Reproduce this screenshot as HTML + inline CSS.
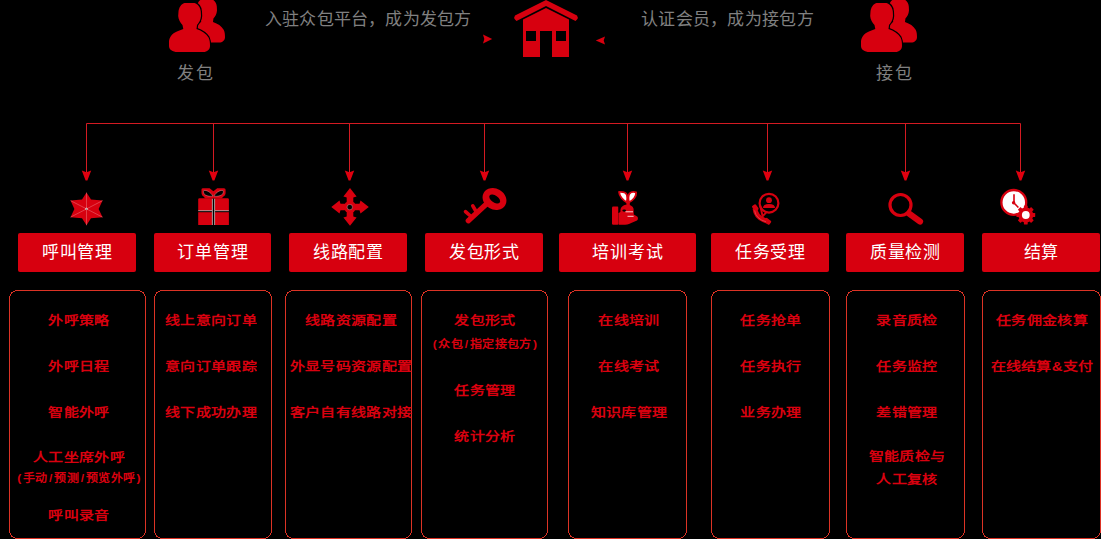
<!DOCTYPE html>
<html lang="zh-CN">
<head>
<meta charset="utf-8">
<style>
html,body{margin:0;padding:0;background:#000;}
body{width:1101px;height:539px;overflow:hidden;position:relative;font-family:"Liberation Sans",sans-serif;}
svg.bg{position:absolute;left:0;top:0;}
.t{position:absolute;white-space:nowrap;text-align:center;line-height:1;}
.g{color:#808080;font-size:17px;font-weight:500;}
.h{position:absolute;top:233px;height:39px;background:#d7000f;border-radius:2px;color:#fff;font-size:17px;line-height:39px;text-align:center;letter-spacing:0.7px;text-indent:0.7px;font-weight:350;}
.s{position:absolute;width:160px;margin-left:-79px;margin-top:1px;text-align:center;color:#d9000f;font-size:15px;font-weight:bold;line-height:1;white-space:nowrap;transform:scaleY(0.82);letter-spacing:0.3px;}
.s i{font-style:normal;display:inline-block;text-align:center;width:6px;}
.s.sm i{width:7px;}
.s.sm{font-size:12px;letter-spacing:0.3px;transform:scaleY(0.92);}
</style>
</head>
<body>
<svg class="bg" width="1101" height="539" viewBox="0 0 1101 539">
  <!-- connector lines -->
  <g stroke="#d41a22" stroke-width="1" fill="none">
    <path d="M86.5 173V123.5H1020.5V173"/>
    <path d="M213.5 123.5V173M349.5 123.5V173M484.5 123.5V173M627.5 123.5V173M767.5 123.5V173M905.5 123.5V173"/>
  </g>
  <!-- arrowheads -->
  <g fill="#e0000f">
    <path id="ah" d="M81.8,170.6 L86.5,172.2 L91.2,170.6 L87.4,180.4 L85.6,180.4 Z"/>
    <use href="#ah" x="127"/>
    <use href="#ah" x="263"/>
    <use href="#ah" x="398"/>
    <use href="#ah" x="541"/>
    <use href="#ah" x="681"/>
    <use href="#ah" x="819"/>
    <use href="#ah" x="934"/>
  </g>

  <!-- top: persons -->
  <defs>
    <path id="pp" d="M184.5,3 L194.5,3 C198,4 200.5,7.5 200.8,11.5 L201,16 C200.8,20 198.8,23 197,25 L196.5,29 C202,31 206,33.5 208.5,37.5 C209.8,40 210,43 210,46 C210,49.5 207,52 203.5,52 L177.5,52 C172.5,52 169,49.5 169,46 L169,42 C169,38 171.5,33.5 177.5,31.3 L183.3,29 L182.5,25 C180.5,23 178.3,19.5 178.2,16 L178.5,11.5 C179,7.5 181,4 184.5,3 Z"/>
    <g id="ppl">
      <use href="#pp" transform="translate(38.1,-3.7) scale(0.89)"/>
      <use href="#pp" stroke="#000" stroke-width="2.4" style="paint-order:stroke"/>
    </g>
  </defs>
  <g fill="#d7000f">
    <use href="#ppl"/>
    <use href="#ppl" x="692"/>
  </g>
  <!-- house -->
  <g fill="#d7000f">
    <path d="M546,0 L577,15.5 Q578.5,17.5 577,19.5 L575.5,21 L546,6 L516.5,21 L515,19.5 Q513.5,17.5 515,15.5 Z"/>
    <path fill-rule="evenodd" d="M523,19.5 L546,8 L569,19.5 V57 H552 V31 H540 V57 H523 Z M526,31 H536 V41 H526 Z M556,31 H566 V41 H556 Z"/>
    <!-- small arrows -->
    <path d="M483,34.6 L492.2,39 L483,43.4 L484.3,39 Z"/>
    <path d="M605,36.6 L595.8,40.5 L605,44.4 L603.7,40.5 Z"/>
  </g>

  <!-- icon1 star -->
  <g>
    <path fill="#d7000f" d="M86.5,192.5 L91,199.6 L102.6,200.6 L98.6,208.9 L102.6,217.2 L91,218.2 L86.5,225.3 L82,218.2 L70.5,217.2 L74.4,208.9 L70.5,200.6 L82,199.6 Z"/>
    <path stroke="#f6b0b4" stroke-width="0.5" stroke-opacity="0.7" fill="none" d="M86.5,192.5 V225.3 M70.5,200.6 L102.6,217.2 M70.5,217.2 L102.6,200.6"/>
    <circle cx="86.5" cy="208.9" r="1.1" fill="#fff"/><circle cx="86.5" cy="208.9" r="0.5" fill="#000"/>
  </g>
  <!-- icon2 gift -->
  <g>
    <path fill="#d7000f" d="M199.5,198.2 H227.6 Q228.9,198.2 228.9,199.5 V224.9 H198.2 V199.5 Q198.2,198.2 199.5,198.2 Z"/>
    <rect x="212.2" y="198" width="2.6" height="27" fill="#000"/>
    <rect x="198" y="210.6" width="31" height="1.6" fill="#000"/>
    <path stroke="#fff" stroke-width="0.7" stroke-opacity="0.85" fill="none" d="M212.4,198.5 V225 M214.6,198.5 V225 M198.2,210.7 H212 M215,210.7 H228.9"/>
    <path fill="#d7000f" d="M201.5,189.4 Q201.5,188.2 203,188.2 L209.6,188.2 L213.4,191.3 L217.2,188.2 L224,188.2 Q225.6,188.2 225.6,189.8 L225.6,193.2 Q225.6,195.2 223.2,196.8 L221.6,198.4 L205.2,198.4 L203.8,196.8 Q201.5,195.2 201.5,193.2 Z"/>
    <path fill="#000" stroke="#fff" stroke-width="0.5" stroke-opacity="0.55" d="M203.9,190.5 C206.8,190 210.6,192.2 212.9,196.1 C209.2,196.7 205.9,195.8 204.3,194.1 C203.3,193 203.2,191 203.9,190.5 Z"/>
    <path fill="#000" stroke="#fff" stroke-width="0.5" stroke-opacity="0.55" d="M222.9,190.5 C220,190 216.2,192.2 213.9,196.1 C217.6,196.7 220.9,195.8 222.5,194.1 C223.5,193 223.6,191 222.9,190.5 Z"/>
  </g>
  <!-- icon3 arrows -->
  <g fill="#d7000f">
    <path fill-rule="evenodd" d="M350,188 L356.6,196.5 L353.3,197.5 L353.3,203.7 L359.5,203.7 L360.5,200.4 L368.8,207 L360.5,213.6 L359.5,210.3 L353.3,210.3 L353.3,216.5 L356.6,217.5 L350,225.8 L343.4,217.5 L346.7,216.5 L346.7,210.3 L340.5,210.3 L339.5,213.6 L331.3,207 L339.5,200.4 L340.5,203.7 L346.7,203.7 L346.7,197.5 L343.4,196.5 Z"/>
    <circle cx="350" cy="207" r="6.1"/>
    <circle cx="349.8" cy="207.1" r="2.7" fill="#000" stroke="#fff" stroke-width="0.5" stroke-opacity="0.6"/>
  </g>
  <!-- icon4 key -->
  <g fill="#d7000f">
    <ellipse cx="494.5" cy="199" rx="12.4" ry="10.4" transform="rotate(30 494.5 199)"/>
    <ellipse cx="494.7" cy="199" rx="6.2" ry="3.5" transform="rotate(35 494.7 199)" fill="#000"/>
    <path stroke="#d7000f" stroke-width="5.3" stroke-linecap="round" d="M487,203.5 L468.3,220.7"/>
    <path stroke="#d7000f" stroke-width="3.6" stroke-linecap="round" d="M470.5,216 L465.5,211.6 M475.8,211 L472.8,205.8"/>
  </g>
  <!-- icon5 plant/hand -->
  <g>
    <path fill="#fff" stroke="#d7000f" stroke-width="1.9" stroke-linejoin="round" d="M627,202.3 C623,200.5 619.3,196 619.1,192 C622.5,191.7 626,192.6 626.9,195 C627.5,197 627.4,199.5 627,202.3 Z"/>
    <path fill="#fff" stroke="#d7000f" stroke-width="1.9" stroke-linejoin="round" d="M628.8,202.3 C628.2,199 628.3,195.5 629.5,193.6 C631,191.9 634,191.7 636.1,192.4 C636.5,196.5 633,200.5 628.8,202.3 Z"/>
    <rect x="626.4" y="201.5" width="3.4" height="3.6" fill="#d7000f"/>
    <rect x="612" y="206.5" width="6.6" height="18.3" rx="1.2" fill="#d7000f"/>
    <path fill="#d7000f" d="M620.4,210.8 C620.4,206.6 624,204.7 627,204.7 C631,204.7 633.6,206.8 633.6,209.5 L633.8,214.6 L636.3,216 C638.3,216.7 638.5,219.4 637,220.4 L630.6,223.2 C628.6,224.4 626,224.8 623,224.8 L618.8,224.8 L618.8,212.5 L620.4,212 Z"/>
    <rect x="618.4" y="205.5" width="0.9" height="7.5" fill="#000"/>
    <ellipse cx="624.2" cy="210.6" rx="1.9" ry="1.1" fill="#000"/>
    <path stroke="#fff" stroke-width="0.9" stroke-opacity="0.9" fill="none" d="M625.5,211.8 H633 M627.5,216.3 H633.6"/>
  </g>
  <!-- icon6 support -->
  <g fill="#d7000f">
    <circle cx="769" cy="203.2" r="9.4" fill="none" stroke="#d7000f" stroke-width="2.2"/>
    <circle cx="769" cy="200.2" r="2.9"/>
    <path d="M763,208 Q763,204 769,204 Q775,204 775,208 Z"/>
    <path stroke="#d7000f" stroke-width="1.9" fill="none" stroke-linejoin="round" d="M760.2,205.5 L762.6,216.3 L766.5,212.2"/>
    <path stroke="#d7000f" stroke-width="4.8" fill="none" d="M755,208.5 Q755.8,218.2 767.8,221.4"/>
    <rect x="-3.2" y="-2.3" width="6.4" height="4.6" rx="1.2" transform="translate(755.3 207.8) rotate(55)"/>
    <rect x="-3.4" y="-2.3" width="6.8" height="4.6" rx="1.2" transform="translate(767.6 221.3) rotate(38)"/>
    <path stroke="#fff" stroke-width="0.5" stroke-opacity="0.45" fill="none" d="M754.6,210.5 Q756,219 766,221.8"/>
  </g>
  <!-- icon7 magnifier -->
  <g>
    <circle cx="900.5" cy="205" r="10.5" fill="none" stroke="#d7000f" stroke-width="3.2"/>
    <path stroke="#d7000f" stroke-width="6.2" stroke-linecap="round" d="M909,213.6 L920,221.6"/>
  </g>
  <!-- icon8 clock/gear -->
  <g>
    <circle cx="1013.8" cy="202.4" r="12.4" fill="#fff" stroke="#d7000f" stroke-width="2.3"/>
    <path stroke="#d7000f" stroke-width="1.6" fill="none" d="M1014,194.2 V203 L1018.4,207.5"/>
    <circle cx="1013.6" cy="202.8" r="1.7" fill="#d7000f"/>
    <g transform="translate(1025.8 215)" fill="#d7000f">
      <circle r="7.5"/>
      <rect x="-1.9" y="-9.4" width="3.8" height="18.8" rx="0.4"/>
      <rect x="-1.9" y="-9.4" width="3.8" height="18.8" rx="0.4" transform="rotate(45)"/>
      <rect x="-1.9" y="-9.4" width="3.8" height="18.8" rx="0.4" transform="rotate(90)"/>
      <rect x="-1.9" y="-9.4" width="3.8" height="18.8" rx="0.4" transform="rotate(135)"/>
      <circle r="3.9" fill="#fff"/>
    </g>
  </g>
  <!-- outline boxes -->
  <g stroke="#dc3325" stroke-width="1" fill="none" shape-rendering="crispEdges">
    <rect x="9.5" y="290.5" width="136" height="248" rx="8"/>
    <rect x="154.5" y="290.5" width="117" height="248" rx="8"/>
    <rect x="285.5" y="290.5" width="126" height="248" rx="8"/>
    <rect x="421.5" y="290.5" width="126" height="248" rx="8"/>
    <rect x="568.5" y="290.5" width="118" height="248" rx="8"/>
    <rect x="711.5" y="290.5" width="118" height="248" rx="8"/>
    <rect x="846.5" y="290.5" width="118" height="248" rx="8"/>
    <rect x="982.5" y="290.5" width="118" height="248" rx="8"/>
  </g>
</svg>

<!-- header boxes -->
<div class="h" style="left:18px;width:118px">呼叫管理</div>
<div class="h" style="left:154px;width:117px">订单管理</div>
<div class="h" style="left:289px;width:118px">线路配置</div>
<div class="h" style="left:425px;width:118px">发包形式</div>
<div class="h" style="left:559px;width:137px">培训考试</div>
<div class="h" style="left:711px;width:118px">任务受理</div>
<div class="h" style="left:846px;width:118px">质量检测</div>
<div class="h" style="left:982px;width:118px">结算</div>

<!-- top texts -->
<div class="t g" style="left:265px;top:11px;letter-spacing:0.2px">入驻众包平台，成为发包方</div>
<div class="t g" style="left:641px;top:11px;letter-spacing:0.3px">认证会员，成为接包方</div>
<div class="t g" style="left:176.5px;top:64.5px;letter-spacing:2px">发包</div>
<div class="t g" style="left:876px;top:64.5px;letter-spacing:2px">接包</div>

<!-- sub items -->
<div class="s" style="left:78px;top:312px">外呼策略</div>
<div class="s" style="left:78px;top:358px">外呼日程</div>
<div class="s" style="left:78px;top:404px">智能外呼</div>
<div class="s" style="left:78px;top:449px">人工坐席外呼</div>
<div class="s sm" style="left:78px;top:471px"><i>(</i>手动<i>/</i>预测<i>/</i>预览外呼<i>)</i></div>
<div class="s" style="left:78px;top:507px">呼叫录音</div>

<div class="s" style="left:210px;top:312px">线上意向订单</div>
<div class="s" style="left:210px;top:358px">意向订单跟踪</div>
<div class="s" style="left:210px;top:404px">线下成功办理</div>

<div class="s" style="left:350px;top:312px">线路资源配置</div>
<div class="s" style="left:350px;top:358px">外显号码资源配置</div>
<div class="s" style="left:350px;top:404px">客户自有线路对接</div>

<div class="s" style="left:484px;top:312px">发包形式</div>
<div class="s sm" style="left:484px;top:337px"><i>(</i>众包<i>/</i>指定接包方<i>)</i></div>
<div class="s" style="left:484px;top:382px">任务管理</div>
<div class="s" style="left:484px;top:428px">统计分析</div>

<div class="s" style="left:628px;top:312px">在线培训</div>
<div class="s" style="left:628px;top:358px">在线考试</div>
<div class="s" style="left:628px;top:404px">知识库管理</div>

<div class="s" style="left:770px;top:312px">任务抢单</div>
<div class="s" style="left:770px;top:358px">任务执行</div>
<div class="s" style="left:770px;top:404px">业务办理</div>

<div class="s" style="left:906px;top:312px">录音质检</div>
<div class="s" style="left:906px;top:358px">任务监控</div>
<div class="s" style="left:906px;top:404px">差错管理</div>
<div class="s" style="left:906px;top:448px">智能质检与</div>
<div class="s" style="left:906px;top:471px">人工复核</div>

<div class="s" style="left:1041px;top:312px">任务佣金核算</div>
<div class="s" style="left:1041px;top:358px">在线结算&amp;支付</div>

</body>
</html>
